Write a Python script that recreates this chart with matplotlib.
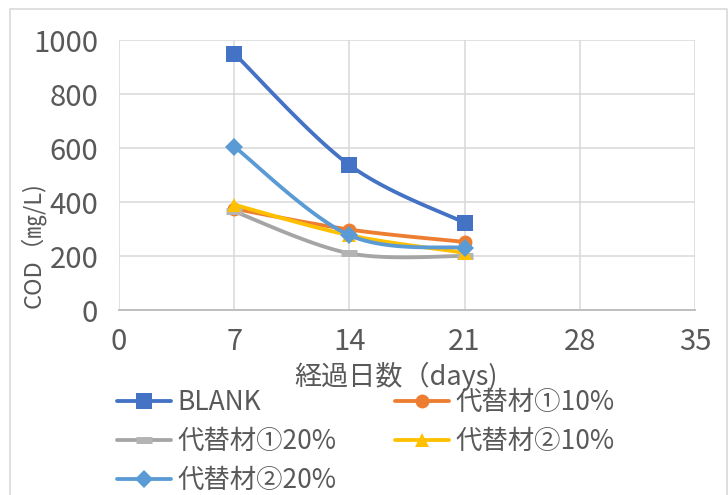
import numpy as np
import matplotlib
matplotlib.use("Agg")
import matplotlib.pyplot as plt
from matplotlib.lines import Line2D

plt.rcParams['font.family'] = ['Liberation Sans Narrow', 'Noto Sans CJK JP', 'DejaVu Sans']

# data
days = [7, 14, 21]
blank = [950, 537, 323]
alt1_10 = [375, 298, 252]
alt1_20 = [365, 210, 200]
alt2_10 = [390, 277, 212]
alt2_20 = [605, 277, 230]

labels = ['BLANK', '代替材①10%', '代替材①20%', '代替材②10%', '代替材②20%']
colors = ['#4472C4', '#ED7D31', '#A5A5A5', '#FFC000', '#5B9BD5']
markers = ['s', 'o', '_', '^', 'D']
msizes = [11, 10, 12, 10, 9]

x_ticks = [0, 7, 14, 21, 28, 35]
y_ticks = [0, 200, 400, 600, 800, 1000]

txt = '#595959'


def excel_smooth(xs, ys, n=40):
    # Excel-like smoothed line: cubic bezier between the points
    p = np.column_stack([xs, ys]).astype(float)
    out = []
    for i in range(len(p) - 1):
        p0 = p[i - 1] if i > 0 else p[i]
        p3 = p[i + 2] if i + 2 < len(p) else p[i + 1]
        c1 = p[i] + (p[i + 1] - p0) / 6
        c2 = p[i + 1] - (p3 - p[i]) / 6
        last = (i == len(p) - 2)
        t = np.linspace(0, 1, n + 1 if last else n, endpoint=last)[:, None]
        seg = ((1 - t) ** 3 * p[i] + 3 * (1 - t) ** 2 * t * c1
               + 3 * (1 - t) * t ** 2 * c2 + t ** 3 * p[i + 1])
        out.append(seg)
    out = np.vstack(out)
    marks = [k * n for k in range(len(p))]
    return out[:, 0], out[:, 1], marks


fig = plt.figure(figsize=(7.28, 4.95), dpi=100)
ax = fig.add_axes([119 / 728, 1 - 310 / 495, (695 - 119) / 728, (310 - 40) / 495])

series = [blank, alt1_10, alt1_20, alt2_10, alt2_20]
handles = []
for k, ys in enumerate(series):
    sx, sy, mk = excel_smooth(days, ys)
    mew = 5 if markers[k] == '_' else 0
    h, = ax.plot(sx, sy, color=colors[k], lw=2.75, marker=markers[k],
                 markevery=mk, markersize=msizes[k], markeredgewidth=mew,
                 markeredgecolor='#B4B4B4' if mew else colors[k],
                 solid_capstyle='round', zorder=3 + k, clip_on=False)
    handles.append(h)

ax.set_xlim(0, 35)
ax.set_ylim(0, 1000)
ax.set_xticks(x_ticks)
ax.set_yticks(y_ticks)
ax.grid(True, color='#D9D9D9', lw=1.1)
ax.set_axisbelow(True)
for s in ['top', 'right', 'left']:
    ax.spines[s].set_visible(False)
ax.spines['bottom'].set_color('#BFBFBF')
ax.spines['bottom'].set_linewidth(1.4)
ax.tick_params(length=0, labelsize=21, labelcolor=txt)
ax.tick_params(axis='x', pad=12)
ax.tick_params(axis='y', pad=15)

fig.text(396 / 728, 1 - 376 / 495, '経過日数（days)', fontsize=19.5, color=txt,
         ha='center', va='center', family=['Noto Sans CJK JP', 'DejaVu Sans'])
fig.text(33 / 728, 1 - 245 / 495, 'COD（㎎/L)', fontsize=17, color=txt,
         ha='center', va='center', rotation=90)

# legend in two columns, row-wise like Excel
order = [0, 2, 4, 1, 3]
leg = fig.legend([handles[i] for i in order], [labels[i] for i in order],
                 ncol=2, loc='upper left', bbox_to_anchor=(117 / 728, 1 - 389 / 495),
                 frameon=False, fontsize=19, labelcolor=txt, handlelength=2.05,
                 handletextpad=0.25, columnspacing=2.2, labelspacing=0.45,
                 borderpad=0, borderaxespad=0, numpoints=1)

# outer chart border
fig.add_artist(Line2D([10 / 728, 10 / 728, 727 / 728, 727 / 728],
                      [-0.05, 1 - 9 / 495, 1 - 9 / 495, -0.05],
                      transform=fig.transFigure, color='#D9D9D9', lw=1.2))

fig.savefig('out.png', dpi=100)
